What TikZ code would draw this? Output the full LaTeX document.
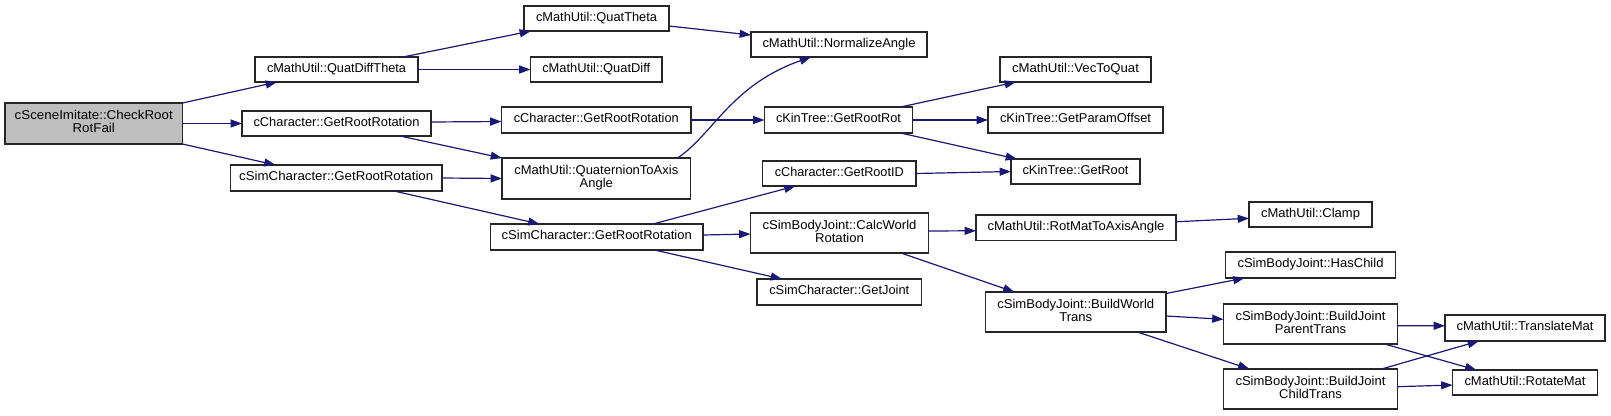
\documentclass[tikz,border=0pt]{standalone}
\usepackage{fontspec}
\setmainfont{Liberation Sans}
\usetikzlibrary{arrows.meta,calc}
\definecolor{edgec}{HTML}{191970}
\definecolor{rootc}{HTML}{BFBFBF}
\tikzset{
  box/.style={draw=black!85, line width=1.05pt, fill=white, inner sep=0pt, outer sep=0pt,
    align=center, font=\fontsize{9.6}{10}\selectfont},
  rootbox/.style={fill=rootc},
  edge/.style={draw=edgec, line width=0.9pt, -{Triangle[length=8.5pt,width=6pt]}},
}
% [style]{name}{x1}{y1}{x2}{y2}{text width px}{text}
\newcommand\gbox[8][]{\node[box,#1,minimum width={(#5-#3)*0.75pt},minimum height={(#6-#4)*0.75pt}] (#2) at ({(#3+#5)/2},{(#4+#6)/2}) {\resizebox{\dimexpr #7pt*3/4\relax}{\height}{\begin{tabular}{@{}c@{}}#8\end{tabular}}};}
\begin{document}
\begin{tikzpicture}[x=0.75pt,y=-0.75pt]
\useasboundingbox[fill=white] (0,0) rectangle (1611,415);
% nodes
\gbox[rootbox]{cr}{5}{103}{182.5}{144}{158}{cSceneImitate::CheckRoot\\RotFail}
\gbox{qdt}{255}{57}{418}{82}{139}{cMathUtil::QuatDiffTheta}
\gbox{cgl}{242}{111}{431}{136}{166}{cCharacter::GetRootRotation}
\gbox{sgl}{230.5}{165}{442}{191}{194}{cSimCharacter::GetRootRotation}
\gbox{qt}{524}{6}{669}{31}{121}{cMathUtil::QuatTheta}
\gbox{na}{751}{32}{927}{57}{153}{cMathUtil::NormalizeAngle}
\gbox{qd}{530.5}{57}{662}{82}{108}{cMathUtil::QuatDiff}
\gbox{cgm}{501.5}{107}{691}{133}{165}{cCharacter::GetRootRotation}
\gbox{krr}{764.5}{107}{912.5}{133}{125}{cKinTree::GetRootRot}
\gbox{qta}{502}{158}{690.5}{199}{164}{cMathUtil::QuaternionToAxis\\Angle}
\gbox{gid}{762.5}{161}{916}{186}{129}{cCharacter::GetRootID}
\gbox{vtq}{1000}{57}{1151}{82}{127}{cMathUtil::VecToQuat}
\gbox{gpo}{988}{107}{1163}{133}{151}{cKinTree::GetParamOffset}
\gbox{gr}{1011}{159}{1140}{184}{106}{cKinTree::GetRoot}
\gbox{sgm}{490.5}{224}{703}{250}{190}{cSimCharacter::GetRootRotation}
\gbox{cwr}{750.5}{213}{928.5}{253}{154}{cSimBodyJoint::CalcWorld\\Rotation}
\gbox{gj}{757}{279}{921.5}{305}{140}{cSimCharacter::GetJoint}
\gbox{cl}{1249}{202}{1372}{227}{99}{cMathUtil::Clamp}
\gbox{rma}{976}{215}{1176}{240.5}{177}{cMathUtil::RotMatToAxisAngle}
\gbox{hc}{1225.5}{252}{1395.5}{278}{146}{cSimBodyJoint::HasChild}
\gbox{bwt}{985.5}{292}{1166}{332}{157}{cSimBodyJoint::BuildWorld\\Trans}
\gbox{bjp}{1223.5}{304}{1397.5}{344}{150}{cSimBodyJoint::BuildJoint\\ParentTrans}
\gbox{tm}{1445}{315}{1605}{341}{137}{cMathUtil::TranslateMat}
\gbox{bjc}{1223.5}{369}{1397.5}{409}{150}{cSimBodyJoint::BuildJoint\\ChildTrans}
\gbox{rm}{1452.5}{370}{1597.5}{395}{121}{cMathUtil::RotateMat}
% edges
\draw[edge] (cr.north east) -- ($(qdt.south west)+(22,0)$);
\draw[edge] (cr.east) -- (cgl.west);
\draw[edge] (cr.south east) -- ($(sgl.north west)+(45,0)$);
\draw[edge] ($(qdt.north east)+(-15,0)$) -- ($(qt.south west)+(7,0)$);
\draw[edge] (qdt.east) -- (qd.west);
\draw[edge] ($(cgl.east)+(0,-1.5)$) -- ($(cgm.west)+(0,1.5)$);
\draw[edge] ($(cgl.south east)+(-31,0)$) -- (qta.north west);
\draw[edge] (sgl.east) -- (qta.west);
\draw[edge] ($(sgl.south east)+(-48,0)$) -- ($(sgm.north west)+(49,0)$);
\draw[edge] (cgm.east) -- (krr.west);
\draw[edge] ($(qta.north east)+(-13,0)$) .. controls +(35,-23) and +(-80,28) .. ($(na.south west)+(60,0)$);
\draw[edge] ($(qt.south east)+(0,-5)$) -- ($(na.north west)+(0,3)$);
\draw[edge] ($(sgm.north west)+(162.5,0)$) -- ($(gid.south west)+(33,0)$);
\draw[edge] ($(sgm.east)+(0,-2)$) -- ($(cwr.west)+(0,1)$);
\draw[edge] ($(sgm.south west)+(164,0)$) -- ($(gj.north west)+(25,0)$);
\draw[edge] ($(krr.north east)+(-12,0)$) -- ($(vtq.south west)+(16,0)$);
\draw[edge] (krr.east) -- (gpo.west);
\draw[edge] ($(krr.south east)+(-12,0)$) -- ($(gr.north west)+(6,0)$);
\draw[edge] (gid.east) -- (gr.west);
\draw[edge] ($(cwr.east)+(0,-2)$) -- ($(rma.west)+(0,3)$);
\draw[edge] ($(cwr.south east)+(-27.5,0)$) -- ($(bwt.north west)+(29,0)$);
\draw[edge] ($(rma.east)+(0,-6)$) -- ($(cl.west)+(0,3.8)$);
\draw[edge] ($(bwt.north east)+(0,1.5)$) -- ($(hc.south west)+(19,0)$);
\draw[edge] ($(bwt.east)+(0,4)$) -- ($(bjp.west)+(0,-4.7)$);
\draw[edge] ($(bwt.south east)+(-28.7,0)$) -- ($(bjc.north west)+(26,0)$);
\draw[edge] ($(bjp.east)+(0,1.7)$) -- ($(tm.west)+(0,-2.2)$);
\draw[edge] ($(bjp.south east)+(-13,0)$) -- ($(rm.north west)+(24,0)$);
\draw[edge] ($(bjc.north east)+(-16,0)$) -- ($(tm.south west)+(34,0)$);
\draw[edge] ($(bjc.east)+(0,-2.3)$) -- ($(rm.west)+(0,2.5)$);
\end{tikzpicture}
\end{document}
